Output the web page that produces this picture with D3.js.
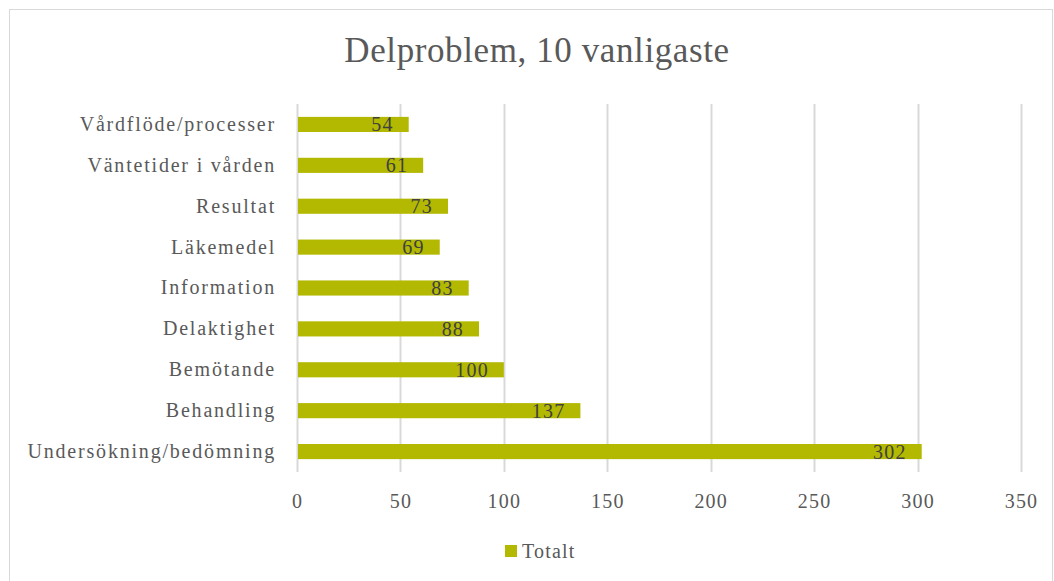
<!DOCTYPE html>
<html>
<head>
<meta charset="utf-8">
<script src="https://cdn.jsdelivr.net/npm/d3@7"></script>
<style>
  body { margin: 0; background: #fff; }
  text { font-family: "Liberation Serif", "DejaVu Serif", serif; }
</style>
</head>
<body>
<div id="chart"></div>
<script>
// Data
const categories = [
  'Vårdflöde/processer',
  'Väntetider i vården',
  'Resultat',
  'Läkemedel',
  'Information',
  'Delaktighet',
  'Bemötande',
  'Behandling',
  'Undersökning/bedömning'
]
const values = [54, 61, 73, 69, 83, 88, 100, 137, 302]
const xTicks = [0, 50, 100, 150, 200, 250, 300, 350]
const seriesName = 'Totalt'
const title = 'Delproblem, 10 vanligaste'

const dataset = categories.map((c, i) => ({ cat: c, val: values[i] }))

// Dimensions
let dimensions = {
  width: 1054,
  height: 581,
  left: 297,
  right: 1021,
  top: 104,
  bottom: 472,
}

const barColor = '#b3b900'
const gridColor = '#d9d9d9'
const labelFont = '20px'
const labelSpacing = '1.2px'

const svg = d3.select('#chart')
  .append('svg')
  .attr('width', dimensions.width)
  .attr('height', dimensions.height)

// chart frame
svg.append('rect')
  .attr('x', 9.5)
  .attr('y', 9.5)
  .attr('width', 1043)
  .attr('height', 640)
  .attr('fill', '#fff')
  .attr('stroke', gridColor)

svg.append('text')
  .attr('x', 537)
  .attr('y', 62)
  .attr('text-anchor', 'middle')
  .attr('fill', '#595959')
  .style('font-size', '35px')
  .style('letter-spacing', '0.6px')
  .text(title)

// Scales
const xScale = d3.scaleLinear()
  .domain([0, 350])
  .range([dimensions.left, dimensions.right])

const yScale = d3.scaleBand()
  .domain(categories)
  .range([dimensions.top, dimensions.bottom])
  .paddingInner(0.63)
  .paddingOuter(0.315)

// gridlines
svg.append('g')
  .selectAll('line')
  .data(xTicks)
  .join('line')
  .attr('x1', d => Math.round(xScale(d)) + 0.5)
  .attr('x2', d => Math.round(xScale(d)) + 0.5)
  .attr('y1', dimensions.top)
  .attr('y2', dimensions.bottom)
  .attr('stroke', gridColor)
  .attr('stroke-width', 2)

// bars
svg.append('g')
  .selectAll('rect')
  .data(dataset)
  .join('rect')
  .attr('x', xScale(0) + 1)
  .attr('y', d => yScale(d.cat))
  .attr('width', d => xScale(d.val) - xScale(0) - 1)
  .attr('height', yScale.bandwidth())
  .attr('fill', barColor)

// value labels
svg.append('g')
  .selectAll('text')
  .data(dataset)
  .join('text')
  .attr('x', d => xScale(d.val) - 15)
  .attr('y', d => yScale(d.cat) + yScale.bandwidth() / 2)
  .attr('dy', '0.35em')
  .attr('text-anchor', 'end')
  .attr('fill', '#404040')
  .style('font-size', labelFont)
  .style('letter-spacing', labelSpacing)
  .text(d => d.val)

// Axes
const xAxis = d3.axisBottom(xScale)
  .tickValues(xTicks)
  .tickSize(0)
  .tickPadding(22)

svg.append('g')
  .attr('transform', `translate(0, ${dimensions.bottom})`)
  .call(xAxis)
  .call(g => g.select('.domain').remove())
  .call(g => g.selectAll('text')
    .attr('fill', '#595959')
    .style('font-size', labelFont)
    .style('letter-spacing', labelSpacing)
    .style('font-family', '"Liberation Serif", serif'))

const yAxis = d3.axisLeft(yScale)
  .tickSize(0)
  .tickPadding(21)

svg.append('g')
  .attr('transform', `translate(${dimensions.left}, 0)`)
  .call(yAxis)
  .call(g => g.select('.domain').remove())
  .call(g => g.selectAll('text')
    .attr('fill', '#595959')
    .style('font-size', labelFont)
    .style('letter-spacing', '1.8px')
    .style('font-family', '"Liberation Serif", serif'))

// legend
const legend = svg.append('g')
  .attr('transform', 'translate(505, 551)')

legend.append('rect')
  .attr('x', 0)
  .attr('y', -6)
  .attr('width', 12)
  .attr('height', 12)
  .attr('fill', barColor)

legend.append('text')
  .attr('x', 17)
  .attr('y', 0)
  .attr('dy', '0.35em')
  .attr('fill', '#595959')
  .style('font-size', labelFont)
  .style('letter-spacing', labelSpacing)
  .text(seriesName)
</script>
</body>
</html>
